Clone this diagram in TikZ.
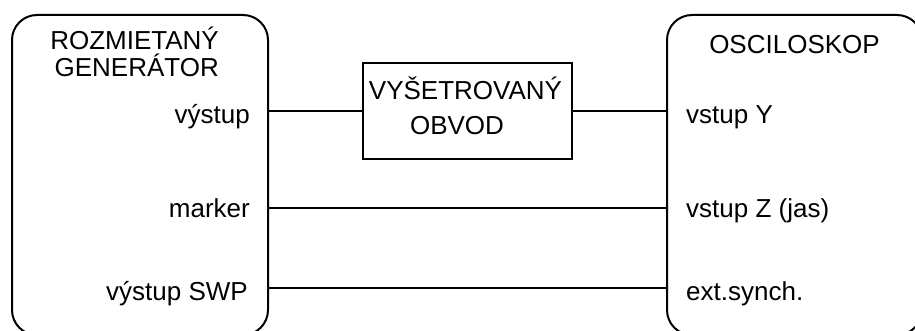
\documentclass[tikz,border=0pt]{standalone}
\usepackage{fontspec}
\setmainfont{Liberation Sans}
\begin{document}
\begin{tikzpicture}[x=1pt,y=-1pt,
  unit/.style={draw, line width=2pt, rounded corners=25pt, minimum width=256pt, minimum height=320pt, inner sep=0pt},
  dutbox/.style={draw, line width=2pt, minimum width=209pt, minimum height=96pt, inner sep=0pt},
  lbl/.style={inner sep=0pt, font=\fontsize{26}{30}\selectfont},
  wire/.style={line width=2pt}]
\useasboundingbox (0,0) rectangle (915,331);

% instruments and the circuit under test
\node[unit] (gen) at (140,175) {};
\node[unit, minimum width=255pt] (osc) at (794.5,175) {};
\node[dutbox] (dut) at (467.5,111) {};

% titles
\node[lbl, anchor=base east] (gt1) at (219,50) {ROZMIETANÝ};
\node[lbl, anchor=base east] (gt2) at (219,77) {GENERÁTOR};
\node[lbl, anchor=base] (ot) at (794.5,54) {OSCILOSKOP};
\node[lbl, anchor=base] (dt1) at (465.5,100) {VYŠETROVANÝ};
\node[lbl, anchor=base] (dt2) at (457,135) {OBVOD};

% generator ports
\node[lbl, anchor=base east] (gout) at (250,124) {výstup};
\node[lbl, anchor=base east] (gmark) at (250,217) {marker};
\node[lbl, anchor=base east] (gswp) at (248,300) {výstup SWP};

% oscilloscope ports
\node[lbl, anchor=base west] (oy) at (686,124) {vstup Y};
\node[lbl, anchor=base west] (oz) at (686,218) {vstup Z (jas)};
\node[lbl, anchor=base west] (oext) at (686,300) {ext.synch.};

% wiring levels
\coordinate (lm) at (0,208);
\coordinate (ls) at (0,288);

\draw[wire] (gen.east |- dut.west) -- (dut.west);
\draw[wire] (dut.east) -- (osc.west |- dut.east);
\draw[wire] (gen.east |- lm) -- (osc.west |- lm);
\draw[wire] (gen.east |- ls) -- (osc.west |- ls);
\end{tikzpicture}
\end{document}
